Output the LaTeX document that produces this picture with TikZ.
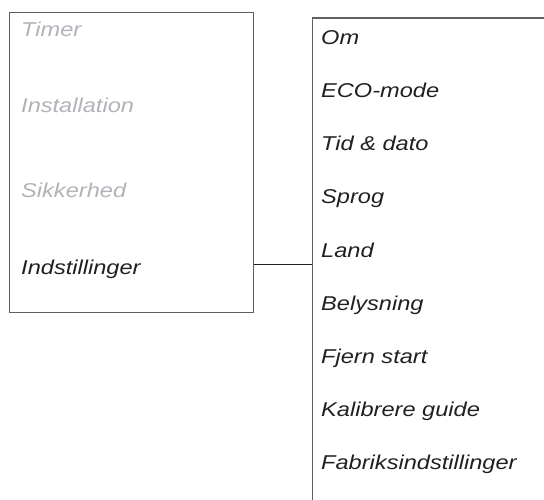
\documentclass[tikz,border=0pt]{standalone}
\usepackage{fontspec}
\setmainfont[FakeStretch=1.18]{Liberation Sans}
\usepackage{tikz}
\usetikzlibrary{positioning}

\definecolor{frameGrey}{RGB}{95,95,95}
\definecolor{itemBlack}{RGB}{35,31,32}
\definecolor{itemGrey}{RGB}{178,178,184}

\tikzset{
    menuBox/.style={rectangle, draw=frameGrey, line width=1.3pt, inner sep=0pt, anchor=north west},
    menuItem/.style={anchor=base west, inner sep=0pt, text=itemBlack, font=\fontsize{20}{24}\selectfont\itshape},
    dimItem/.style={menuItem, text=itemGrey}
}

\begin{document}
\begin{tikzpicture}[x=1pt, y=-1pt]
    \useasboundingbox (0,0) rectangle (544,500);
    \clip (0,0) rectangle (544,500);

    % main menu
    \node [menuBox, minimum width=244pt, minimum height=300pt] (mainMenu) at (8.5,12) {};
    \node [dimItem] (timer) at (21,37) {Timer};
    \node [dimItem] (installation) at (21,113) {Installation};
    \node [dimItem] (sikkerhed) at (21,197) {Sikkerhed};
    \node [menuItem] (indstillinger) at (21,274) {Indstillinger};

    % settings submenu
    \node [menuBox, minimum width=260pt, minimum height=500pt] (subMenu) at (311.5,17.5) {};
    \node [menuItem] (om) at (321,45) {Om};
    \node [menuItem, below=53pt of om.base west, anchor=base west] (ecoMode) {ECO-mode};
    \node [menuItem, below=53pt of ecoMode.base west, anchor=base west] (tidDato) {Tid \& dato};
    \node [menuItem, below=53pt of tidDato.base west, anchor=base west] (sprog) {Sprog};
    \node [menuItem, below=53pt of sprog.base west, anchor=base west] (land) {Land};
    \node [menuItem, below=53pt of land.base west, anchor=base west] (belysning) {Belysning};
    \node [menuItem, below=53pt of belysning.base west, anchor=base west] (fjernStart) {Fjern start};
    \node [menuItem, below=53pt of fjernStart.base west, anchor=base west] (kalibrere) {Kalibrere guide};
    \node [menuItem, below=53pt of kalibrere.base west, anchor=base west] (fabrik) {Fabriksindstillinger};

    \coordinate (branch) at (mainMenu.east |- 0,264);
    \draw [itemBlack, line width=0.9pt] (branch) -- (branch -| subMenu.west);
\end{tikzpicture}
\end{document}
